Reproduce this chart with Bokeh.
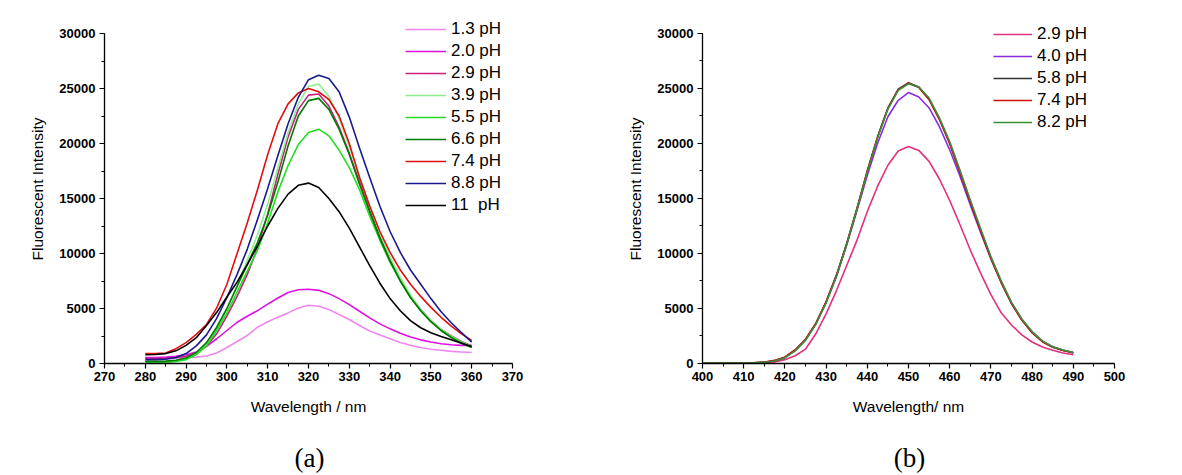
from bokeh.plotting import figure
from bokeh.layouts import row, column
from bokeh.models import (Range1d, SingleIntervalTicker, Legend, LegendItem)
from bokeh.core.properties import value
from bokeh.embed import file_html
from bokeh.resources import INLINE

# ---- panel (a): excitation spectra, 280-360 nm ----
wl_a = [280.0, 282.5, 285.0, 287.5, 290.0, 292.5, 295.0, 297.5, 300.0, 302.5,
        305.0, 307.5, 310.0, 312.5, 315.0, 317.5, 320.0, 322.5, 325.0, 327.5,
        330.0, 332.5, 335.0, 337.5, 340.0, 342.5, 345.0, 347.5, 350.0, 352.5,
        355.0, 357.5, 360.0]

a_ph13 = [450, 450, 460, 480, 520, 580, 680, 950, 1450, 2000, 2550, 3300, 3800,
          4200, 4600, 5050, 5300, 5200, 4900, 4450, 4000, 3450, 2950, 2600, 2250,
          1900, 1650, 1450, 1300, 1200, 1100, 1050, 1000]
a_ph20 = [550, 550, 580, 650, 800, 1050, 1550, 2250, 3000, 3750, 4300, 4800, 5400,
          5950, 6450, 6700, 6750, 6650, 6350, 5900, 5350, 4750, 4150, 3600, 3150,
          2750, 2400, 2150, 1950, 1800, 1700, 1650, 1650]
a_ph29 = [450, 450, 480, 550, 650, 950, 1600, 2700, 4300, 6100, 8100, 10500, 13600,
          17200, 20600, 23100, 24400, 24500, 23400, 21500, 19100, 16500, 13900, 11500,
          9400, 7600, 6100, 4900, 3900, 3100, 2500, 2000, 1600]
a_ph39 = [150, 150, 170, 250, 450, 900, 1800, 3200, 5000, 7100, 9400, 11700, 14500,
          17800, 21000, 23600, 25200, 25400, 24300, 22300, 19700, 17000, 14400, 11900,
          9700, 7800, 6200, 4900, 3900, 3100, 2450, 1950, 1550]
a_ph55 = [100, 100, 120, 180, 350, 800, 1600, 3000, 4600, 6500, 8400, 10300, 12800,
          15600, 18000, 19900, 21000, 21300, 20700, 19400, 17800, 15800, 13400, 11200,
          9200, 7500, 6000, 4800, 3800, 3000, 2400, 1900, 1500]
a_ph66 = [200, 200, 220, 300, 500, 1000, 1900, 3300, 5000, 7000, 9000, 11000, 13500,
          16500, 19800, 22500, 23900, 24100, 23100, 21300, 19000, 16300, 13800, 11400,
          9300, 7500, 6000, 4800, 3800, 3000, 2350, 1850, 1450]
a_ph74 = [900, 900, 950, 1350, 1900, 2650, 3550, 5050, 7200, 10000, 12800, 15800, 19000,
          21800, 23600, 24600, 25000, 24700, 24000, 22500, 20000, 16900, 14300, 12000,
          10100, 8500, 7200, 6100, 5100, 4200, 3400, 2700, 2100]
a_ph88 = [350, 350, 400, 550, 900, 1600, 2600, 4100, 6000, 8100, 10400, 13100, 15900,
          18900, 21800, 24200, 25800, 26200, 25900, 24700, 22400, 19600, 16900, 14300,
          12000, 10100, 8500, 7200, 5900, 4700, 3700, 2800, 1950]
a_ph11 = [800, 820, 900, 1150, 1650, 2350, 3450, 4650, 6050, 7400, 9000, 10700, 12500,
          14100, 15400, 16200, 16400, 16000, 15000, 13800, 12300, 10600, 8900, 7300,
          5900, 4800, 3900, 3250, 2800, 2450, 2150, 1850, 1550]

a_labels = ["1.3 pH", "2.0 pH", "2.9 pH", "3.9 pH", "5.5 pH",
            "6.6 pH", "7.4 pH", "8.8 pH", "11  pH"]
a_series = [a_ph13, a_ph20, a_ph29, a_ph39, a_ph55, a_ph66, a_ph74, a_ph88, a_ph11]
a_colors = ["#EE88EE", "#E010E0", "#C8207F", "#90EE90", "#22DD22",
            "#007A00", "#E01010", "#1A1A8C", "#000000"]

# ---- panel (b): emission spectra, 400-490 nm ----
wl_b = [400.0, 402.5, 405.0, 407.5, 410.0, 412.5, 415.0, 417.5, 420.0, 422.5,
        425.0, 427.5, 430.0, 432.5, 435.0, 437.5, 440.0, 442.5, 445.0, 447.5,
        450.0, 452.5, 455.0, 457.5, 460.0, 462.5, 465.0, 467.5, 470.0, 472.5,
        475.0, 477.5, 480.0, 482.5, 485.0, 487.5, 490.0]

b_ph29 = [30, 30, 30, 30, 30, 50, 80, 150, 350, 700, 1300, 2700, 4500, 6600, 8900,
          11200, 13800, 16100, 18000, 19300, 19700, 19350, 18350, 16750, 14800, 12600,
          10300, 8200, 6250, 4600, 3500, 2600, 1950, 1500, 1200, 950, 800]
b_ph40 = [30, 30, 30, 30, 40, 60, 120, 250, 550, 1200, 2150, 3600, 5550, 7900, 10750,
          13900, 17100, 20000, 22400, 23900, 24600, 24200, 23200, 21500, 19400, 17000,
          14400, 11900, 9500, 7350, 5450, 3950, 2800, 2000, 1500, 1200, 950]
b_ph58 = [30, 30, 30, 30, 40, 60, 120, 250, 550, 1200, 2150, 3600, 5600, 8000, 10900,
          14100, 17500, 20600, 23200, 24900, 25500, 25100, 24000, 22200, 20000, 17400,
          14700, 12100, 9600, 7400, 5500, 4000, 2850, 2000, 1500, 1200, 1000]
b_ph74 = [40, 40, 40, 40, 50, 70, 140, 280, 600, 1250, 2200, 3650, 5600, 8000, 10850,
          14050, 17450, 20550, 23150, 24850, 25450, 25050, 23950, 22150, 19950, 17350,
          14650, 12050, 9550, 7350, 5450, 3950, 2800, 1980, 1480, 1180, 980]
b_ph82 = [30, 30, 30, 30, 40, 60, 110, 230, 520, 1150, 2100, 3550, 5500, 7900, 10800,
          14000, 17400, 20500, 23100, 24800, 25400, 25100, 24100, 22300, 20150, 17550,
          14850, 12250, 9700, 7500, 5550, 4050, 2900, 2050, 1520, 1220, 1000]

b_labels = ["2.9 pH", "4.0 pH", "5.8 pH", "7.4 pH", "8.2 pH"]
b_series = [b_ph29, b_ph40, b_ph58, b_ph74, b_ph82]
b_colors = ["#E0307E", "#8A2BE2", "#333333", "#CC1010", "#3A8E3A"]

captions = ["(a)", "(b)"]

FONT = "Liberation Sans"
SERIF = "Liberation Serif"
Y_MAX = 30000          # end of the drawn intensity axis
PLOT_H = 430           # height of each spectrum panel
CAP_H = 45             # height of the caption strip underneath


def style_axes(p, xlabel, ylabel):
    p.xaxis.ticker = SingleIntervalTicker(interval=10, num_minor_ticks=2)
    p.yaxis.ticker = SingleIntervalTicker(interval=5000, num_minor_ticks=2)
    p.yaxis.bounds = (0, Y_MAX)
    p.xaxis.axis_label = xlabel
    p.yaxis.axis_label = ylabel
    for ax in (p.xaxis[0], p.yaxis[0]):
        ax.axis_line_color = "black"
        ax.axis_line_width = 1.3
        ax.major_tick_line_color = "black"
        ax.minor_tick_line_color = "black"
        ax.major_tick_line_width = 1.2
        ax.minor_tick_line_width = 1.0
        ax.major_tick_out = 5
        ax.major_tick_in = 0
        ax.minor_tick_out = 3
        ax.minor_tick_in = 0
        ax.major_label_text_font = FONT
        ax.major_label_text_font_style = "bold"
        ax.major_label_text_font_size = "13px"
        ax.major_label_text_color = "black"
        ax.axis_label_text_font = FONT
        ax.axis_label_text_font_style = "normal"
        ax.axis_label_text_font_size = "15.5px"
        ax.axis_label_text_color = "black"
    p.xaxis.major_label_standoff = 3
    p.yaxis.major_label_standoff = 4
    p.xaxis.axis_label_standoff = 14
    p.yaxis.axis_label_standoff = 10
    p.xgrid.visible = False
    p.ygrid.visible = False
    p.outline_line_color = None


def make_panel(width, border_left, border_right, frame_bottom, px_per_5000, xr, xs,
               series, colors, labels, xlabel, legend_loc, glyph_w, row_h):
    top = 14
    frame_h = frame_bottom - top
    # the frame reaches a little above 30000 so the legend sits inside it
    y_end = frame_h / px_per_5000 * 5000
    p = figure(width=width, height=PLOT_H, output_backend="svg", toolbar_location=None,
               x_range=Range1d(*xr), y_range=Range1d(0, y_end),
               min_border_left=border_left, min_border_right=border_right,
               min_border_top=top, min_border_bottom=PLOT_H - frame_bottom)
    style_axes(p, xlabel, "Fluorescent Intensity")
    items = []
    for ys, c, lab in zip(series, colors, labels):
        r = p.line(xs, ys, line_color=c, line_width=1.6, line_join="round")
        items.append(LegendItem(label=lab, renderers=[r]))
    leg = Legend(items=items, location=legend_loc, orientation="vertical",
                 spacing=0, padding=0, margin=0, glyph_width=glyph_w,
                 glyph_height=row_h, label_height=row_h, label_standoff=5,
                 label_text_font=FONT, label_text_font_size="17px",
                 label_text_color="black",
                 border_line_alpha=0, background_fill_alpha=0)
    p.add_layout(leg)
    return p


def make_caption(width, text, cx, cy):
    c = figure(width=width, height=CAP_H, output_backend="svg", toolbar_location=None,
               x_range=Range1d(0, width), y_range=Range1d(0, CAP_H),
               min_border=0)
    c.axis.visible = False
    c.xgrid.visible = False
    c.ygrid.visible = False
    c.outline_line_color = None
    c.text(x=[cx], y=[cy], text=[text], text_align="center", text_baseline="middle",
           text_font=value(SERIF), text_font_size="27px", text_color="black")
    return c


pa = make_panel(600, 104, 88, 363, 55.0, (270, 370), wl_a, a_series, a_colors,
                a_labels, "Wavelength / nm", (301, 147), 41, 22)
pb = make_panel(582, 102, 68, 367, 55.7, (400, 500), wl_b, b_series, b_colors,
                b_labels, "Wavelength/ nm", (291, 230), 39, 22)
ca = make_caption(600, captions[0], 309, 18)
cb = make_caption(582, captions[1], 309, 18)

layout = column(row(pa, pb), row(ca, cb))
open("out.html", "w").write(file_html(layout, INLINE))
